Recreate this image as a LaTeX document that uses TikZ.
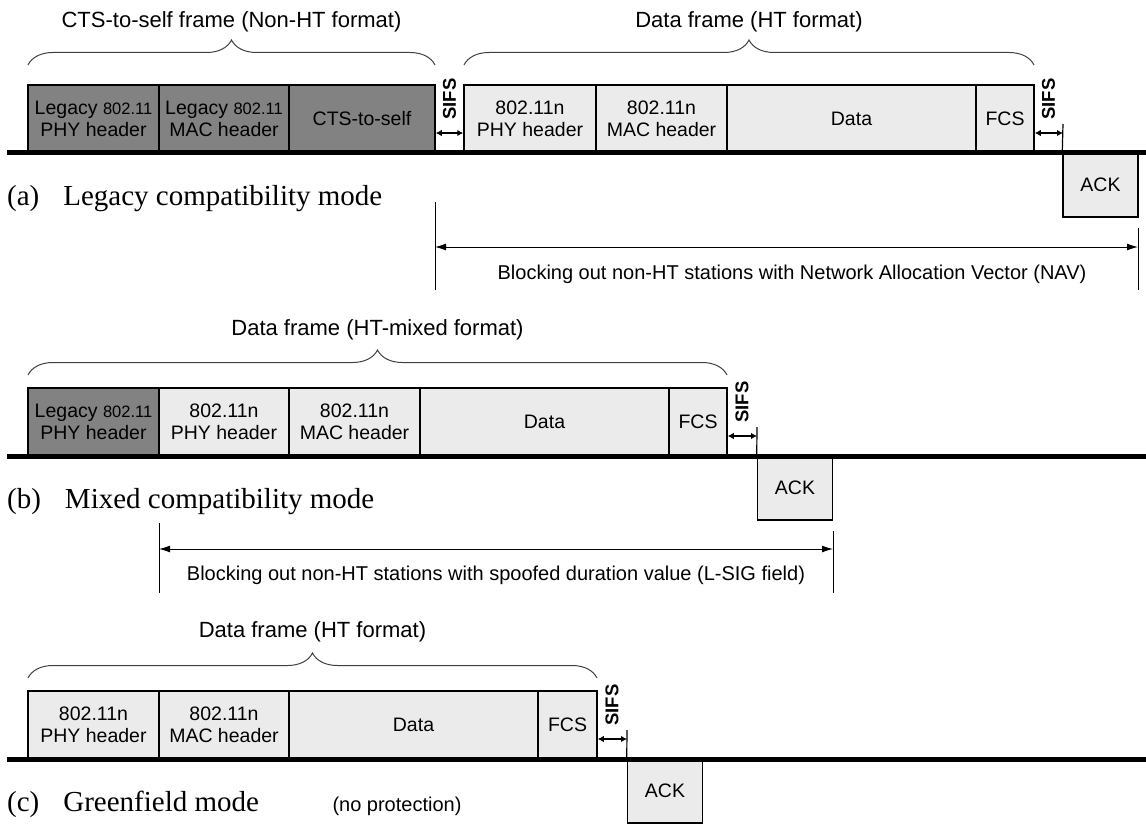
\documentclass[tikz,border=0pt]{standalone}
\usepackage{fontspec}
\setmainfont{Liberation Sans}
\newfontfamily\tnr{Liberation Serif}
\usetikzlibrary{decorations.pathreplacing,arrows.meta}
\newcommand\frmbox[6]{\node[#1, minimum width={#4-#3}] (#2) at ({(#3+#4)/2},{#5}) {#6};}
\newcommand\lgnum{{\fontsize{16.5}{22}\selectfont 802.11}}
\begin{document}
\begin{tikzpicture}[x=1pt,y=-1pt,
  boxfont/.style={font=\fontsize{19.5}{22}\selectfont},
  lbox/.style={draw, line width=1.5pt, fill=black!49, minimum height=67pt, inner sep=0pt, align=center, boxfont},
  hbox/.style={draw, line width=1.5pt, fill=black!8, minimum height=67pt, inner sep=0pt, align=center, boxfont},
  ackbox/.style={draw, line width=1.5pt, fill=black!8, minimum width=75pt, minimum height=64pt, inner sep=0pt, boxfont},
  baseln/.style={line width=5pt},
  sifsarr/.style={{Latex[length=6pt,width=6.5pt]}-{Latex[length=6pt,width=6.5pt]}, line width=1.5pt},
  sifslbl/.style={rotate=90, font=\bfseries\fontsize{18.5}{20}\selectfont, inner sep=0pt},
  tickln/.style={line width=1.2pt},
  navarr/.style={{Latex[length=11pt,width=7pt]}-{Latex[length=11pt,width=7pt]}, line width=1pt},
  navln/.style={line width=1pt},
  brc/.style={decorate, decoration={brace, amplitude=25pt}, line width=1pt, black!75},
  ttl/.style={font=\fontsize{22}{24}\selectfont, inner sep=0pt},
  navtxt/.style={font=\fontsize{20}{22}\selectfont, inner sep=0pt},
  modelbl/.style={font=\tnr\fontsize{29}{32}\selectfont, anchor=base west, inner sep=0pt}
]
\useasboundingbox (0,0) rectangle (1146,824);

% ================= (a) =================
\frmbox{lbox}{la1}{28}{159}{118.5}{Legacy \lgnum\\PHY header}
\frmbox{lbox}{la2}{159}{289}{118.5}{Legacy \lgnum\\MAC header}
\frmbox{lbox}{la3}{289}{435}{118.5}{CTS-to-self}
\frmbox{hbox}{ha1}{464}{596}{118.5}{802.11n\\PHY header}
\frmbox{hbox}{ha2}{596}{727}{118.5}{802.11n\\MAC header}
\frmbox{hbox}{ha3}{727}{976}{118.5}{Data}
\frmbox{hbox}{ha4}{976}{1034}{118.5}{FCS}
\node[ackbox] (acka) at (1100.5,185) {ACK};
\coordinate (bla0) at (7,153);
\coordinate (bla1) at (1146,153);
\draw[baseln] (bla0) -- (bla1);
\coordinate (ya) at (0,133);
\draw[sifsarr] (la3.east |- ya) -- (ha1.west |- ya);
\node[sifslbl] (sla1) at (449.5,99) {SIFS};
\coordinate (tka) at (1063,124);
\draw[tickln] (tka) -- (acka.north west);
\draw[sifsarr] (ha4.east |- ya) -- (tka |- ya);
\node[sifslbl] (sla2) at (1048.5,99) {SIFS};
\coordinate (bra0) at (28,65);
\coordinate (bra1) at (435,65);
\draw[brc] (bra0) -- (bra1);
\node[ttl] (tta1) at (231.5,22) {CTS-to-self frame (Non-HT format)};
\coordinate (brb0) at (464,65);
\coordinate (brb1) at (1034,65);
\draw[brc] (brb0) -- (brb1);
\node[ttl] (tta2) at (749,22) {Data frame (HT format)};
\node[modelbl] (ma) at (7,205) {(a)\hspace{24pt}Legacy compatibility mode};
\coordinate (nla0) at (435,202);
\coordinate (nla1) at (435,290);
\coordinate (nra0) at (1138,228);
\coordinate (nra1) at (1138,290);
\draw[navln] (nla0) -- (nla1);
\draw[navln] (nra0) -- (nra1);
\coordinate (yna) at (0,247);
\draw[navarr] (nla0 |- yna) -- (nra0 |- yna);
\node[navtxt] (nava) at (792,274) {Blocking out non-HT stations with Network Allocation Vector (NAV)};

% ================= (b) =================
\frmbox{lbox}{lb1}{28}{159}{421.5}{Legacy \lgnum\\PHY header}
\frmbox{hbox}{hb1}{159}{289}{421.5}{802.11n\\PHY header}
\frmbox{hbox}{hb2}{289}{420}{421.5}{802.11n\\MAC header}
\frmbox{hbox}{hb3}{420}{669}{421.5}{Data}
\frmbox{hbox}{hb4}{669}{727}{421.5}{FCS}
\node[ackbox] (ackb) at (795,488) {ACK};
\coordinate (blb0) at (7,456);
\coordinate (blb1) at (1146,456);
\draw[baseln] (blb0) -- (blb1);
\coordinate (tkb) at (757,427);
\draw[tickln] (tkb) -- (ackb.north west);
\coordinate (yb) at (0,436);
\draw[sifsarr] (hb4.east |- yb) -- (tkb |- yb);
\node[sifslbl] (slb) at (742,402) {SIFS};
\coordinate (brc0) at (28,375);
\coordinate (brc1) at (727,375);
\draw[brc] (brc0) -- (brc1);
\node[ttl] (ttb) at (377.5,330) {Data frame (HT-mixed format)};
\node[modelbl] (mb) at (7,508) {(b)\hspace{24pt}Mixed compatibility mode};
\coordinate (nlb0) at (159,523);
\coordinate (nlb1) at (159,593);
\coordinate (nrb0) at (833,531);
\coordinate (nrb1) at (833,593);
\draw[navln] (nlb0) -- (nlb1);
\draw[navln] (nrb0) -- (nrb1);
\coordinate (ynb) at (0,549);
\draw[navarr] (nlb0 |- ynb) -- (nrb0 |- ynb);
\node[navtxt] (navb) at (496,575) {Blocking out non-HT stations with spoofed duration value (L-SIG field)};

% ================= (c) =================
\frmbox{hbox}{hc1}{28}{159}{724.5}{802.11n\\PHY header}
\frmbox{hbox}{hc2}{159}{289}{724.5}{802.11n\\MAC header}
\frmbox{hbox}{hc3}{289}{538}{724.5}{Data}
\frmbox{hbox}{hc4}{538}{597}{724.5}{FCS}
\node[ackbox] (ackc) at (665,791) {ACK};
\coordinate (blc0) at (7,759);
\coordinate (blc1) at (1146,759);
\draw[baseln] (blc0) -- (blc1);
\coordinate (tkc) at (627,730);
\draw[tickln] (tkc) -- (ackc.north west);
\coordinate (yc) at (0,739);
\draw[sifsarr] (hc4.east |- yc) -- (tkc |- yc);
\node[sifslbl] (slc) at (612,705) {SIFS};
\coordinate (brd0) at (28,678);
\coordinate (brd1) at (597,678);
\draw[brc] (brd0) -- (brd1);
\node[ttl] (ttc) at (312.5,632) {Data frame (HT format)};
\node[modelbl] (mc) at (7,811) {(c)\hspace{24pt}Greenfield mode};
\node[navtxt] (nop) at (397,806) {(no protection)};
\end{tikzpicture}
\end{document}
